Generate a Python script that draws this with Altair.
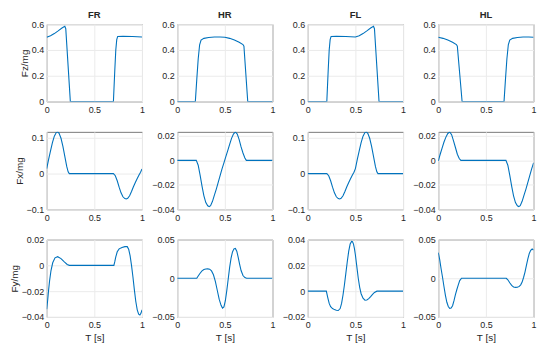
import altair as alt
import pandas as pd

# ---------------- data ----------------
COLS = ["FR", "HR", "FL", "HL"]

# Fz/mg
FR_FZ_T = [0, 0.04, 0.08, 0.12, 0.16, 0.19, 0.2, 0.248, 0.70, 0.715, 0.725, 0.735, 0.745, 0.8, 0.9, 1.0]
FR_FZ_V = [0.498, 0.51, 0.527, 0.548, 0.57, 0.583, 0.565, 0, 0, 0.25, 0.4, 0.48, 0.505, 0.506, 0.504, 0.501]
HR_FZ_T = [0, 0.19, 0.205, 0.22, 0.235, 0.25, 0.28, 0.33, 0.39, 0.45, 0.5, 0.55, 0.6, 0.65, 0.69, 0.70, 0.74, 1.0]
HR_FZ_V = [0, 0, 0.17, 0.33, 0.44, 0.477, 0.49, 0.497, 0.500, 0.501, 0.498, 0.49, 0.477, 0.46, 0.442, 0.43, 0, 0]
FL_FZ_T = [0, 0.20, 0.215, 0.225, 0.235, 0.245, 0.3, 0.4, 0.5, 0.54, 0.58, 0.62, 0.66, 0.69, 0.70, 0.748, 1.0]
FL_FZ_V = [0, 0, 0.25, 0.4, 0.48, 0.505, 0.506, 0.504, 0.500, 0.51, 0.527, 0.548, 0.57, 0.583, 0.565, 0, 0]
HL_FZ_T = [0, 0.05, 0.1, 0.15, 0.19, 0.2, 0.25, 0.69, 0.705, 0.72, 0.735, 0.75, 0.78, 0.83, 0.89, 0.95, 1.0]
HL_FZ_V = [0.499, 0.49, 0.477, 0.46, 0.442, 0.43, 0, 0, 0.17, 0.33, 0.44, 0.477, 0.49, 0.497, 0.500, 0.501, 0.499]

# Fx/mg
FR_FX_T = [0, 0.02, 0.04, 0.06, 0.08, 0.1, 0.115, 0.13, 0.15, 0.17, 0.19, 0.21, 0.225, 0.237,
           0.70, 0.72, 0.74, 0.76, 0.78, 0.80, 0.82, 0.835, 0.85, 0.87, 0.89, 0.91, 0.93, 0.95, 0.97, 0.985, 1.0]
FR_FX_V = [0.014, 0.04, 0.064, 0.087, 0.105, 0.115, 0.117, 0.113, 0.099, 0.076, 0.048, 0.02, 0.005, 0,
           0, -0.006, -0.02, -0.038, -0.054, -0.065, -0.07, -0.071, -0.069, -0.062, -0.05, -0.037, -0.025, -0.014, -0.003, 0.004, 0.013]
HR_FX_T = [0, 0.2, 0.22, 0.24, 0.26, 0.28, 0.30, 0.32, 0.335, 0.35, 0.37, 0.39, 0.41, 0.43, 0.45, 0.47, 0.49,
           0.51, 0.53, 0.55, 0.57, 0.59, 0.61, 0.63, 0.65, 0.67, 0.69, 0.71, 0.725, 1.0]
HR_FX_V = [0, 0, -0.004, -0.012, -0.021, -0.029, -0.0345, -0.0372, -0.0378, -0.037, -0.0335, -0.0285, -0.0235,
           -0.018, -0.0125, -0.007, -0.002, 0.003, 0.008, 0.013, 0.018, 0.0215, 0.0232, 0.0215, 0.017, 0.011, 0.006,
           0.002, 0, 0]
FL_FX_T = [0, 0.20, 0.22, 0.24, 0.26, 0.28, 0.30, 0.32, 0.335, 0.35, 0.37, 0.39, 0.41, 0.43, 0.45, 0.47, 0.485,
           0.5, 0.52, 0.54, 0.56, 0.58, 0.60, 0.615, 0.63, 0.65, 0.67, 0.69, 0.71, 0.725, 0.737, 1.0]
FL_FX_V = [0, 0, -0.006, -0.02, -0.038, -0.054, -0.065, -0.07, -0.071, -0.069, -0.062, -0.05, -0.037, -0.025,
           -0.014, -0.003, 0.004, 0.014, 0.04, 0.064, 0.087, 0.105, 0.115, 0.117, 0.113, 0.099, 0.076, 0.048, 0.02,
           0.005, 0, 0]
HL_FX_T = [0, 0.02, 0.04, 0.06, 0.08, 0.10, 0.12, 0.14, 0.16, 0.18, 0.20, 0.22, 0.237, 0.71, 0.73, 0.75, 0.77,
           0.79, 0.81, 0.83, 0.845, 0.86, 0.88, 0.90, 0.92, 0.94, 0.96, 0.98, 1.0]
HL_FX_V = [-0.0005, 0.005, 0.01, 0.015, 0.019, 0.022, 0.0232, 0.021, 0.016, 0.0105, 0.005, 0.0015, 0, 0, -0.004,
           -0.012, -0.021, -0.029, -0.0345, -0.0372, -0.0378, -0.037, -0.0335, -0.0285, -0.0235, -0.018, -0.0125,
           -0.007, -0.002]

# Fy/mg
FR_FY_T = [0, 0.01, 0.02, 0.03, 0.045, 0.063, 0.087, 0.115, 0.15, 0.185, 0.215, 0.237, 0.705, 0.715, 0.725,
           0.74, 0.76, 0.79, 0.82, 0.845, 0.86, 0.875, 0.89, 0.905, 0.92, 0.935, 0.95, 0.965, 0.978, 0.99, 1.0]
FR_FY_V = [-0.034, -0.027, -0.019, -0.012, -0.004, 0.002, 0.0058, 0.0067, 0.0052, 0.0027, 0.0007, 0, 0, 0.003,
           0.0065, 0.0105, 0.0128, 0.0138, 0.0145, 0.0145, 0.0125, 0.0075, 0.0, -0.009, -0.019, -0.028, -0.0345,
           -0.0378, -0.0385, -0.037, -0.0345]
HR_FY_T = [0, 0.205, 0.22, 0.24, 0.26, 0.28, 0.30, 0.32, 0.34, 0.36, 0.38, 0.40, 0.42, 0.44, 0.46, 0.475, 0.49,
           0.505, 0.52, 0.535, 0.55, 0.565, 0.58, 0.595, 0.61, 0.625, 0.64, 0.655, 0.67, 0.69, 0.71, 0.728, 1.0]
HR_FY_V = [0, 0, 0.003, 0.0065, 0.0095, 0.0113, 0.012, 0.0121, 0.0117, 0.0095, 0.0045, -0.004, -0.0155, -0.027,
           -0.035, -0.0385, -0.037, -0.029, -0.016, -0.001, 0.014, 0.026, 0.034, 0.038, 0.0385, 0.035, 0.027, 0.018,
           0.01, 0.0035, 0.0008, 0, 0]
FL_FY_T = [0, 0.195, 0.21, 0.225, 0.24, 0.26, 0.28, 0.30, 0.32, 0.34, 0.355, 0.37, 0.385, 0.40, 0.415, 0.43,
           0.445, 0.46, 0.47, 0.48, 0.49, 0.50, 0.515, 0.53, 0.545, 0.56, 0.58, 0.60, 0.62, 0.64, 0.66, 0.68, 0.70,
           0.726, 1.0]
FL_FY_V = [0, 0, -0.005, -0.0095, -0.012, -0.0135, -0.0143, -0.0148, -0.015, -0.0135, -0.0095, -0.003, 0.005,
           0.014, 0.023, 0.031, 0.0365, 0.0385, 0.0383, 0.0365, 0.033, 0.028, 0.019, 0.01, 0.003, -0.002, -0.0055,
           -0.007, -0.0068, -0.0058, -0.0043, -0.0025, -0.001, 0, 0]
HL_FY_T = [0, 0.015, 0.03, 0.045, 0.06, 0.075, 0.09, 0.105, 0.12, 0.135, 0.15, 0.165, 0.18, 0.195, 0.21, 0.225,
           0.244, 0.714, 0.73, 0.75, 0.77, 0.79, 0.81, 0.83, 0.85, 0.865, 0.88, 0.895, 0.91, 0.925, 0.94, 0.955,
           0.97, 0.985, 1.0]
HL_FY_V = [0.033, 0.024, 0.012, 0.001, -0.011, -0.022, -0.031, -0.0365, -0.0388, -0.0385, -0.0355, -0.029, -0.021,
           -0.0145, -0.0085, -0.003, 0, 0, -0.002, -0.0058, -0.0092, -0.0112, -0.0118, -0.0116, -0.0105, -0.0085,
           -0.005, 0.001, 0.008, 0.0165, 0.025, 0.032, 0.036, 0.0378, 0.0365]

ROW_TITLES = ["Fz/mg", "Fx/mg", "Fy/mg"]
X_TICKS = [0, 0.5, 1]

# per panel: (t, v, y-domain, y-ticks), rows Fz, Fx, Fy ; columns FR, HR, FL, HL
PANELS = [
    [(FR_FZ_T, FR_FZ_V, [0, 0.6], [0, 0.2, 0.4, 0.6]),
     (HR_FZ_T, HR_FZ_V, [0, 0.6], [0, 0.2, 0.4, 0.6]),
     (FL_FZ_T, FL_FZ_V, [0, 0.6], [0, 0.2, 0.4, 0.6]),
     (HL_FZ_T, HL_FZ_V, [0, 0.6], [0, 0.2, 0.4, 0.6])],
    [(FR_FX_T, FR_FX_V, [-0.1, 0.117], [-0.1, 0, 0.1]),
     (HR_FX_T, HR_FX_V, [-0.04, 0.0233], [-0.04, -0.02, 0, 0.02]),
     (FL_FX_T, FL_FX_V, [-0.1, 0.117], [-0.1, 0, 0.1]),
     (HL_FX_T, HL_FX_V, [-0.04, 0.0233], [-0.04, -0.02, 0, 0.02])],
    [(FR_FY_T, FR_FY_V, [-0.04, 0.02], [-0.04, -0.02, 0, 0.02]),
     (HR_FY_T, HR_FY_V, [-0.05, 0.05], [-0.05, 0, 0.05]),
     (FL_FY_T, FL_FY_V, [-0.02, 0.04], [-0.02, 0, 0.02, 0.04]),
     (HL_FY_T, HL_FY_V, [-0.05, 0.05], [-0.05, 0, 0.05])],
]

FONT = "Liberation Sans"
TXT = "#262626"

charts = []
for r, row in enumerate(PANELS):
    for c, (t, v, dom, yt) in enumerate(row):
        df = pd.DataFrame({"t": t, "v": v})
        x_axis = alt.Axis(values=X_TICKS, format="~g", labelFlush=False, tickSize=0,
                          labelPadding=4, titlePadding=3)
        y_axis = alt.Axis(values=yt, format="~g", tickSize=0, labelPadding=3, titlePadding=2)
        ch = alt.Chart(df).mark_line(color="#0072BD", strokeWidth=1.1, clip=True).encode(
            x=alt.X("t:Q", scale=alt.Scale(domain=[0, 1], nice=False, zero=False),
                    axis=x_axis, title="T [s]" if r == 2 else None),
            y=alt.Y("v:Q", scale=alt.Scale(domain=dom, nice=False, zero=False),
                    axis=y_axis, title=ROW_TITLES[r] if c == 0 else None),
        )
        if r == 0:
            ch = ch.properties(width=96, height=78,
                               title=alt.TitleParams(COLS[c], fontSize=9.5, fontWeight="bold",
                                                     font=FONT, color=TXT, offset=1))
        else:
            ch = ch.properties(width=96, height=78)
        charts.append(ch)

chart = alt.concat(*charts, columns=4, spacing={"row": 30.5, "column": 35.5}, bounds="flush").properties(
    padding={"left": 0, "top": 0, "right": 5, "bottom": 5}
).configure_view(
    stroke="#7a7a7a", strokeWidth=1
).configure_axis(
    domain=False, grid=True, gridColor="#ebebeb", gridWidth=1,
    labelFont=FONT, labelFontSize=9, labelColor=TXT,
    titleFont=FONT, titleFontSize=10, titleFontWeight="normal", titleColor=TXT,
)

chart.save("out.html", embed_options={"renderer": "svg", "actions": False})
